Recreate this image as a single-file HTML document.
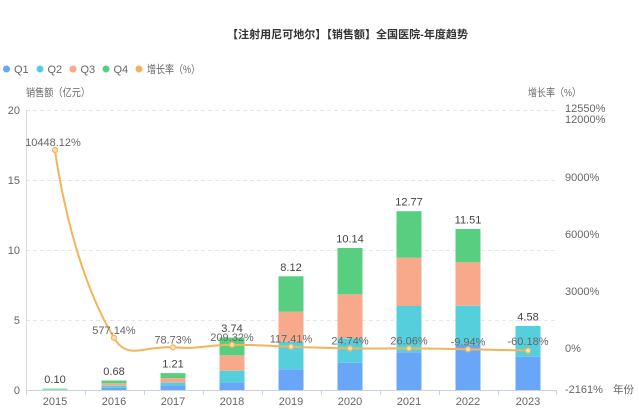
<!DOCTYPE html>
<html><head><meta charset="utf-8"><style>
html,body{margin:0;padding:0;background:#fff;}
svg{display:block;font-family:"Liberation Sans","Noto Sans CJK SC",sans-serif;}
</style></head><body>
<svg width="639" height="419" viewBox="0 0 639 419" xmlns="http://www.w3.org/2000/svg">
<rect width="639" height="419" fill="#fff"/>
<!-- title -->
<text x="227" y="38" font-size="11" font-weight="bold" fill="#333" textLength="241" lengthAdjust="spacingAndGlyphs">【注射用尼可地尔】【销售额】全国医院-年度趋势</text>
<!-- legend -->
<g font-size="11" fill="#666">
<circle cx="6.5" cy="69" r="3.5" fill="#6aa6f8"/><text x="14" y="73">Q1</text>
<circle cx="40" cy="69" r="3.5" fill="#56cfdc"/><text x="47.5" y="73">Q2</text>
<circle cx="73" cy="69" r="3.5" fill="#f9a98b"/><text x="80.5" y="73">Q3</text>
<circle cx="106" cy="69" r="3.5" fill="#58cf80"/><text x="113.5" y="73">Q4</text>
<circle cx="139" cy="69" r="3.5" fill="#f3b559"/><text x="147" y="73" textLength="53" lengthAdjust="spacingAndGlyphs">增长率（%）</text>
</g>
<!-- axis names -->
<text x="26" y="96" font-size="10.5" fill="#666" textLength="64" lengthAdjust="spacingAndGlyphs">销售额（亿元）</text>
<text x="528" y="96" font-size="10.5" fill="#666" textLength="53" lengthAdjust="spacingAndGlyphs">增长率（%）</text>
<!-- grid -->
<g stroke="#e3e7ee" stroke-width="1" stroke-dasharray="4,3">
<line x1="26" y1="110.5" x2="557" y2="110.5"/>
<line x1="26" y1="180.5" x2="557" y2="180.5"/>
<line x1="26" y1="250.5" x2="557" y2="250.5"/>
<line x1="26" y1="320.5" x2="557" y2="320.5"/>
</g>
<!-- left tick labels -->
<g font-size="11" fill="#666" text-anchor="end">
<text x="20" y="114">20</text>
<text x="20" y="184">15</text>
<text x="20" y="254">10</text>
<text x="20" y="324">5</text>
<text x="20" y="394">0</text>
</g>
<!-- right tick labels -->
<g font-size="11" fill="#666">
<text x="565" y="112">12550%</text>
<text x="565" y="123">12000%</text>
<text x="565" y="181">9000%</text>
<text x="565" y="238">6000%</text>
<text x="565" y="295">3000%</text>
<text x="565" y="352">0%</text>
<text x="565" y="393">-2161%</text>
<text x="613" y="393" font-size="10.5">年份</text>
</g>
<!-- bars -->
<g>
<!-- 2015 -->
<rect x="42.5" y="388.5" width="25" height="1.5" fill="#8fdcae"/>
<!-- 2016 -->
<rect x="101.5" y="387.9" width="25" height="2.1" fill="#6aa6f8"/>
<rect x="101.5" y="385.7" width="25" height="2.2" fill="#56cfdc"/>
<rect x="101.5" y="383.3" width="25" height="2.4" fill="#f9a98b"/>
<rect x="101.5" y="380.5" width="25" height="2.8" fill="#58cf80"/>
<!-- 2017 -->
<rect x="160.5" y="385.4" width="25" height="4.6" fill="#6aa6f8"/>
<rect x="160.5" y="382.6" width="25" height="2.8" fill="#56cfdc"/>
<rect x="160.5" y="378.1" width="25" height="4.5" fill="#f9a98b"/>
<rect x="160.5" y="373.1" width="25" height="5.0" fill="#58cf80"/>
<!-- 2018 -->
<rect x="219.5" y="382.3" width="25" height="7.7" fill="#6aa6f8"/>
<rect x="219.5" y="370.7" width="25" height="11.6" fill="#56cfdc"/>
<rect x="219.5" y="355.3" width="25" height="15.4" fill="#f9a98b"/>
<rect x="219.5" y="337.6" width="25" height="17.7" fill="#58cf80"/>
<!-- 2019 -->
<rect x="278.5" y="369.3" width="25" height="20.7" fill="#6aa6f8"/>
<rect x="278.5" y="341.7" width="25" height="27.6" fill="#56cfdc"/>
<rect x="278.5" y="311.7" width="25" height="30" fill="#f9a98b"/>
<rect x="278.5" y="276.3" width="25" height="35.4" fill="#58cf80"/>
<!-- 2020 -->
<rect x="337.5" y="362.7" width="25" height="27.3" fill="#6aa6f8"/>
<rect x="337.5" y="338.3" width="25" height="24.4" fill="#56cfdc"/>
<rect x="337.5" y="294.3" width="25" height="44" fill="#f9a98b"/>
<rect x="337.5" y="248" width="25" height="46.3" fill="#58cf80"/>
<!-- 2021 -->
<rect x="396.5" y="352.3" width="25" height="37.7" fill="#6aa6f8"/>
<rect x="396.5" y="306" width="25" height="46.3" fill="#56cfdc"/>
<rect x="396.5" y="257.7" width="25" height="48.3" fill="#f9a98b"/>
<rect x="396.5" y="211.2" width="25" height="46.5" fill="#58cf80"/>
<!-- 2022 -->
<rect x="455.5" y="344.3" width="25" height="45.7" fill="#6aa6f8"/>
<rect x="455.5" y="305.7" width="25" height="38.6" fill="#56cfdc"/>
<rect x="455.5" y="262.3" width="25" height="43.4" fill="#f9a98b"/>
<rect x="455.5" y="229" width="25" height="33.3" fill="#58cf80"/>
<!-- 2023 -->
<rect x="515.5" y="356.7" width="25" height="33.3" fill="#6aa6f8"/>
<rect x="515.5" y="326" width="25" height="30.7" fill="#56cfdc"/>
</g>
<!-- axes -->
<line x1="26.5" y1="110" x2="26.5" y2="390" stroke="#d5dee7" stroke-width="1"/>
<line x1="26" y1="390.5" x2="557" y2="390.5" stroke="#c9d3dd" stroke-width="1"/>
<g stroke="#c9d3dd" stroke-width="1">
<line x1="26.5" y1="390" x2="26.5" y2="395"/>
<line x1="85.5" y1="390" x2="85.5" y2="395"/>
<line x1="144.5" y1="390" x2="144.5" y2="395"/>
<line x1="203.5" y1="390" x2="203.5" y2="395"/>
<line x1="262.5" y1="390" x2="262.5" y2="395"/>
<line x1="321.5" y1="390" x2="321.5" y2="395"/>
<line x1="380.5" y1="390" x2="380.5" y2="395"/>
<line x1="439.5" y1="390" x2="439.5" y2="395"/>
<line x1="498.5" y1="390" x2="498.5" y2="395"/>
<line x1="556.5" y1="390" x2="556.5" y2="395"/>
</g>
<!-- x labels -->
<g font-size="11" fill="#666" text-anchor="middle">
<text x="55" y="405">2015</text>
<text x="114" y="405">2016</text>
<text x="173" y="405">2017</text>
<text x="232" y="405">2018</text>
<text x="291" y="405">2019</text>
<text x="350" y="405">2020</text>
<text x="409" y="405">2021</text>
<text x="468" y="405">2022</text>
<text x="528" y="405">2023</text>
</g>
<!-- bar totals -->
<g font-size="11" fill="#444" text-anchor="middle">
<text x="55" y="383">0.10</text>
<text x="114" y="375">0.68</text>
<text x="173" y="367.5">1.21</text>
<text x="232" y="332">3.74</text>
<text x="291" y="271">8.12</text>
<text x="350" y="242.5">10.14</text>
<text x="409" y="205.7">12.77</text>
<text x="468" y="223.5">11.51</text>
<text x="528" y="320.5">4.58</text>
</g>
<!-- growth line -->
<path d="M55,150 C55,150 68.7,262.2 114,337.9 C127.7,360.9 143.3,345.6 173,347.4 C202.3,349.1 202.5,345.1 232,344.9 C261.5,344.7 261.5,345.8 291,346.7 C320.5,347.6 320.5,348 350,348.4 C379.5,348.8 379.5,348.2 409,348.4 C438.5,348.6 438.5,348.7 468,349.3 C497.5,349.8 528,350.5 528,350.5" fill="none" stroke="#f3b559" stroke-width="2"/>
<g fill="#fbe2b3" stroke="#f3b559" stroke-width="1.2">
<circle cx="55" cy="150" r="2.5"/>
<circle cx="114" cy="337.9" r="2.5"/>
<circle cx="173" cy="347.4" r="2.5"/>
<circle cx="232" cy="344.9" r="2.5"/>
<circle cx="291" cy="346.7" r="2.5"/>
<circle cx="350" cy="348.4" r="2.5"/>
<circle cx="409" cy="348.4" r="2.5"/>
<circle cx="468" cy="349.3" r="2.5"/>
<circle cx="528" cy="350.5" r="2.5"/>
</g>
<!-- growth labels -->
<g font-size="11" fill="#666" text-anchor="middle">
<text x="53" y="146">10448.12%</text>
<text x="114" y="334">577.14%</text>
<text x="173" y="343.5">78.73%</text>
<text x="232" y="341">209.32%</text>
<text x="291" y="342.7">117.41%</text>
<text x="350" y="344.4">24.74%</text>
<text x="409" y="344.4">26.06%</text>
<text x="468" y="345.5">-9.94%</text>
<text x="528" y="345">-60.18%</text>
</g>
</svg>
</body></html>
